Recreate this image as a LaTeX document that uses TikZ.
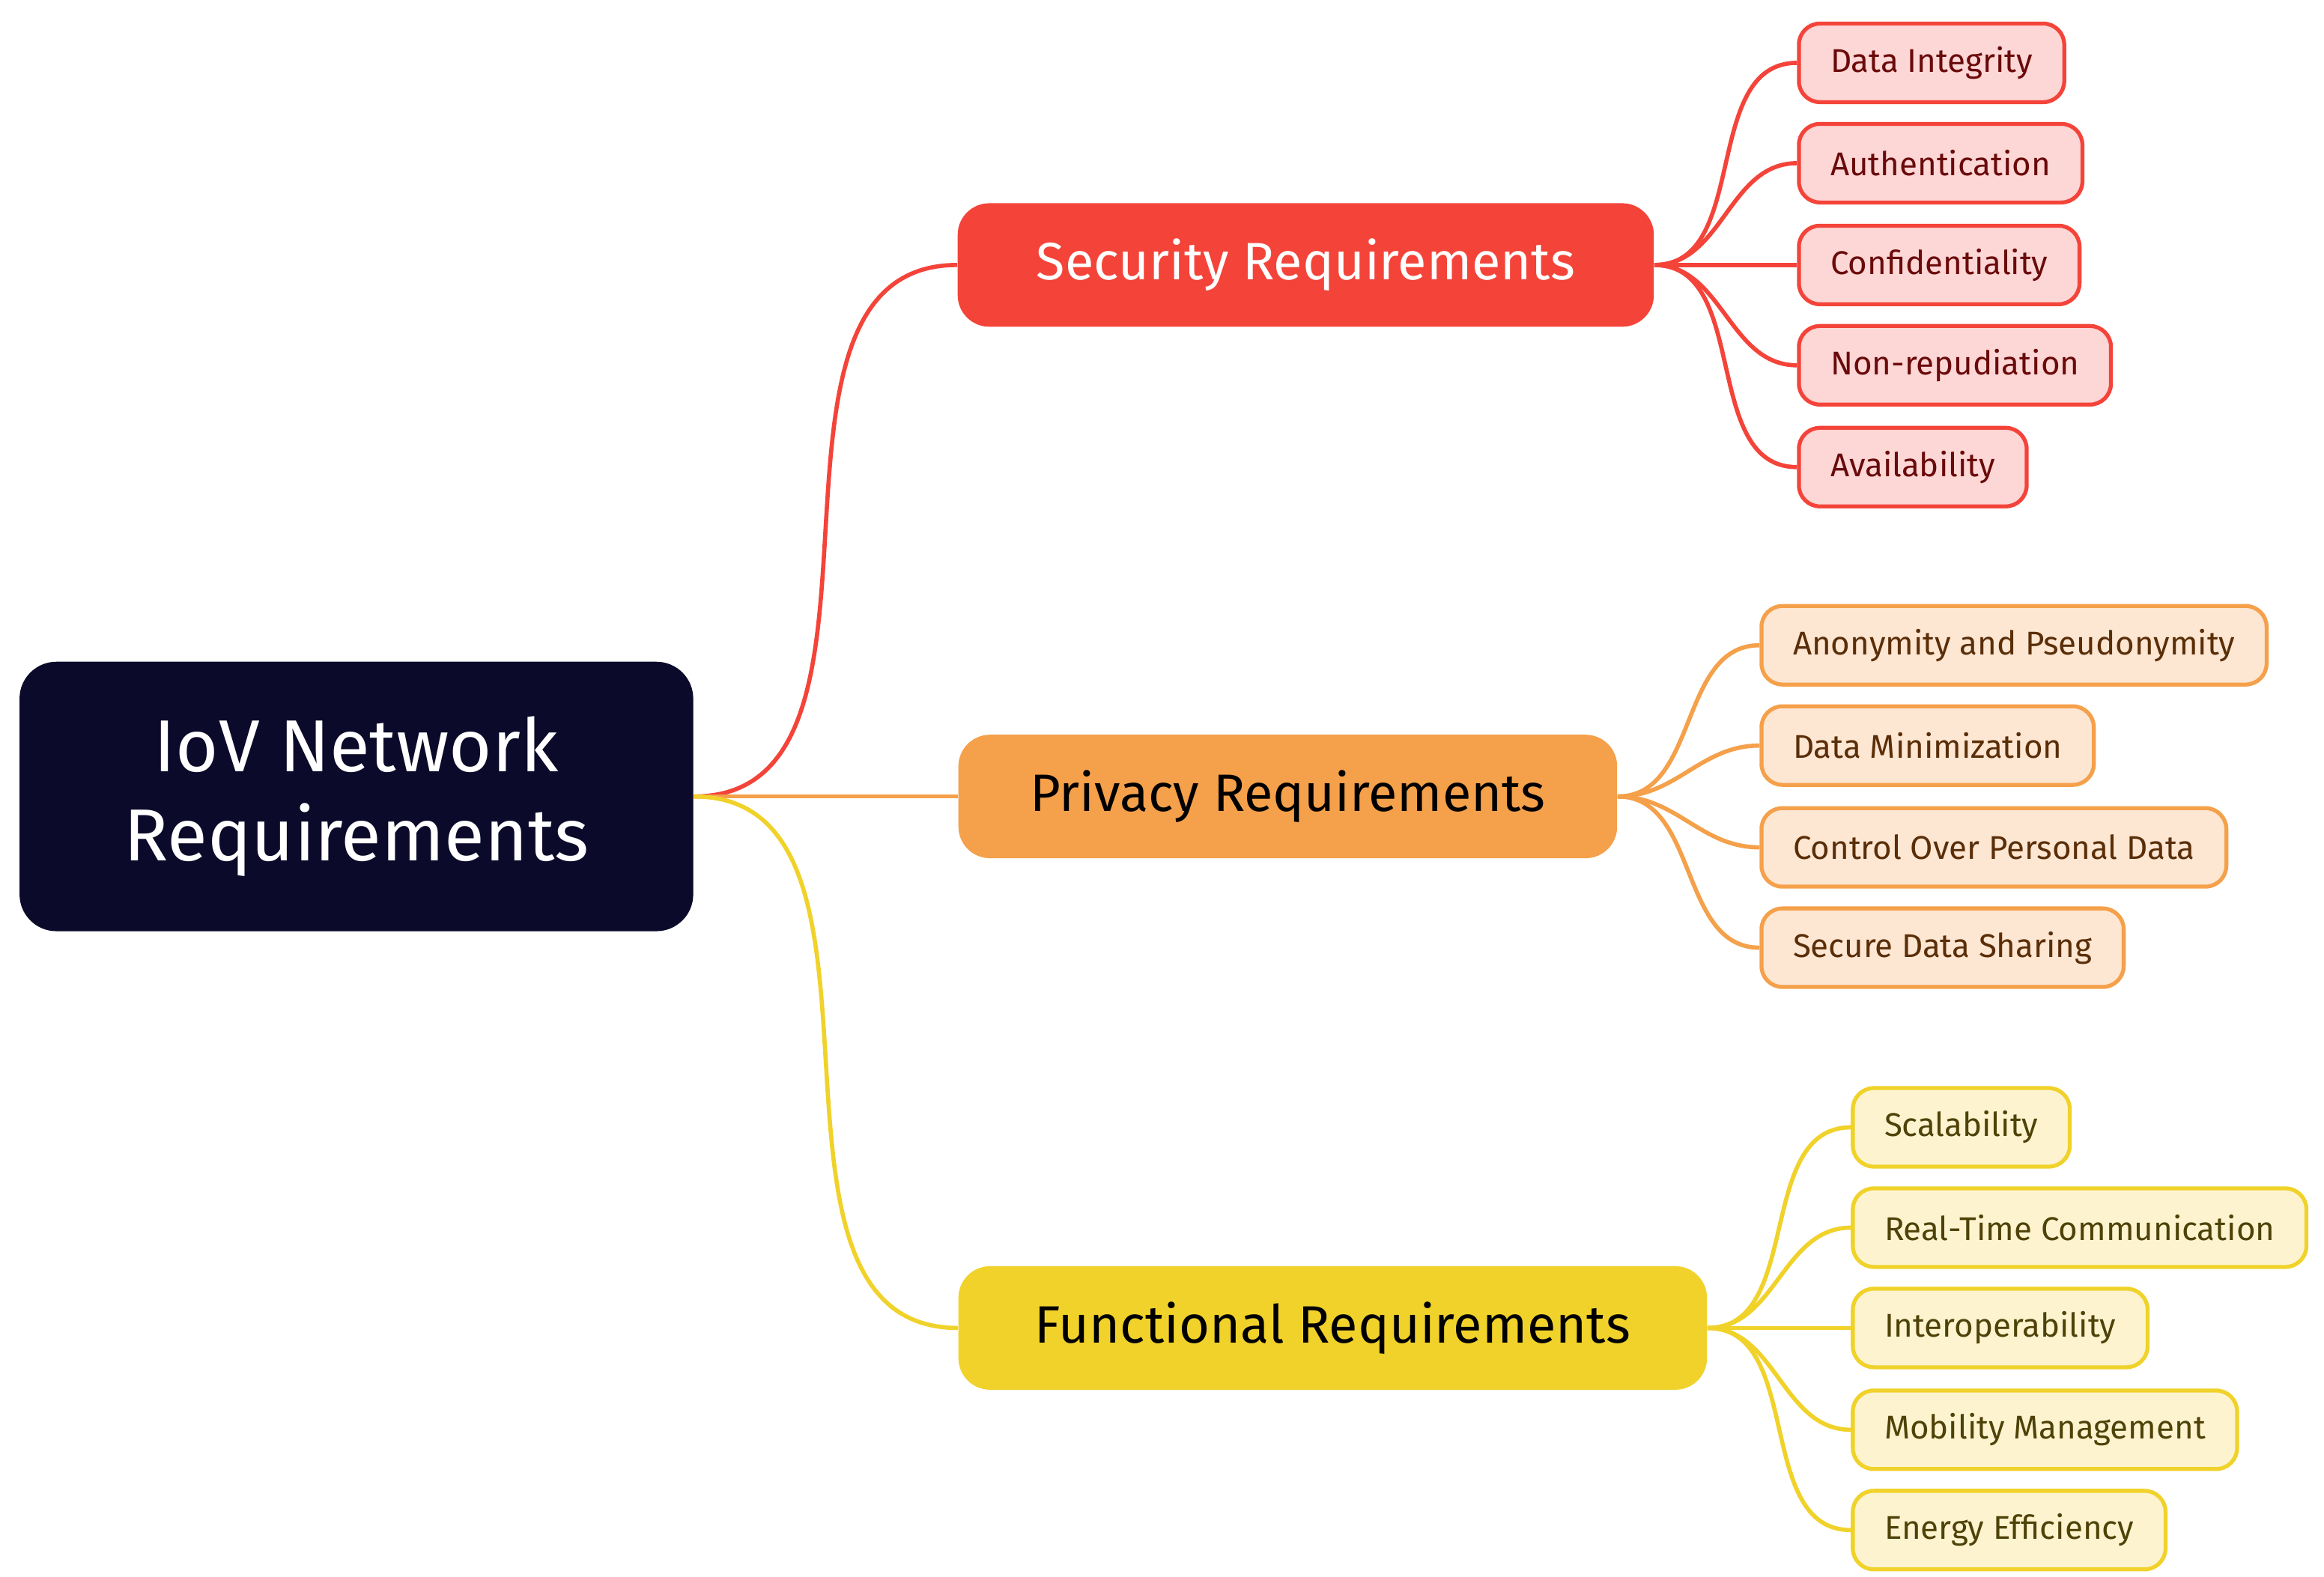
\documentclass[tikz,border=0pt]{standalone}
\usepackage{fontspec}
\setmainfont{Fira Sans}
\definecolor{navy}{HTML}{0B0A2A}
\definecolor{secred}{HTML}{F4443A}
\definecolor{secfill}{HTML}{FDD6D6}
\definecolor{sectext}{HTML}{6A0A0A}
\definecolor{privor}{HTML}{F5A04A}
\definecolor{privfill}{HTML}{FDE6D2}
\definecolor{privtext}{HTML}{5A2E08}
\definecolor{funyel}{HTML}{F0D22A}
\definecolor{funfill}{HTML}{FDF4CF}
\definecolor{funtext}{HTML}{4E4208}
\tikzset{
  box/.style={rounded corners=8pt, line width=1.5pt, inner xsep=12pt, minimum height=1.05cm},
  topic/.style={rounded corners=12pt, minimum height=1.65cm, font=\fontsize{20}{24}\selectfont},
  leaf/.style={box, anchor=west, font=\fontsize{12.5}{15}\selectfont},
  link/.style={line width=1.6pt, out=0, in=180},
}
\begin{document}
\begin{tikzpicture}[x=0.02cm, y=-0.02cm]
\useasboundingbox (0,0) rectangle (1552,1053);
\node[rounded corners=14pt, fill=navy, text=white, minimum width=9cm, minimum height=3.6cm,
  align=center, font=\fontsize{28}{34}\selectfont] (root) at (238,532) {IoV Network\\Requirements};
\node[topic, fill=secred, text=white, minimum width=9.3cm] (sec) at (872,177) {Security Requirements};
\node[topic, fill=privor, text=black, minimum width=8.8cm] (priv) at (860,532) {Privacy Requirements};
\node[topic, fill=funyel, text=black, minimum width=10cm] (fun) at (890,887) {Functional Requirements};
\draw[link, secred] (root.east) to (sec.west);
\draw[link, privor] (root.east) to (priv.west);
\draw[link, funyel] (root.east) to (fun.west);
% security leaves
\foreach \t/\y [count=\i] in {Data Integrity/42, Authentication/109, Confidentiality/177, Non-repudiation/244, Availability/312}{
  \node[leaf, draw=secred, fill=secfill, text=sectext] (s\i) at (1200,\y) {\t};
  \draw[link, secred] (sec.east) to (s\i.west);
}
% privacy leaves
\foreach \t/\y [count=\i] in {Anonymity and Pseudonymity/431, Data Minimization/498, Control Over Personal Data/566, Secure Data Sharing/633}{
  \node[leaf, draw=privor, fill=privfill, text=privtext] (p\i) at (1175,\y) {\t};
  \draw[link, privor] (priv.east) to (p\i.west);
}
% functional leaves
\foreach \t/\y [count=\i] in {Scalability/753, Real-Time Communication/820, Interoperability/887, Mobility Management/955, Energy Efficiency/1022}{
  \node[leaf, draw=funyel, fill=funfill, text=funtext] (f\i) at (1236,\y) {\t};
  \draw[link, funyel] (fun.east) to (f\i.west);
}
\end{tikzpicture}
\end{document}
